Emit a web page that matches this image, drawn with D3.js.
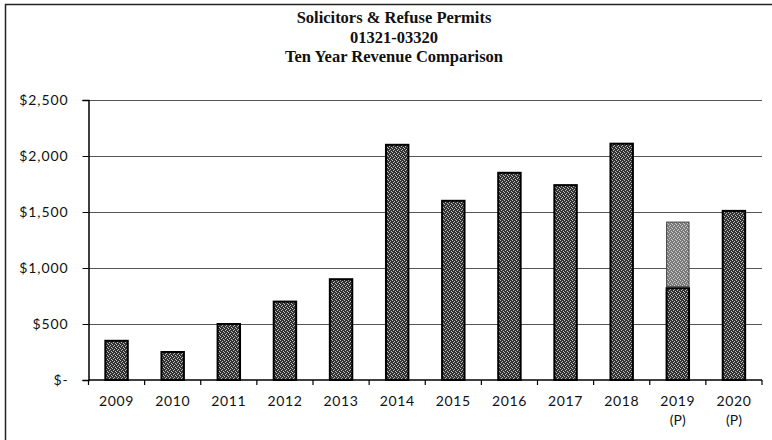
<!DOCTYPE html>
<html>
<head>
<meta charset="utf-8">
<script src="https://cdn.jsdelivr.net/npm/d3@7"></script>
<style>
  html, body { margin: 0; padding: 0; background: #fff; }
  svg { display: block; }
</style>
</head>
<body>
<svg id="chart" width="772" height="440"></svg>
<script>
// Fiscal years and their second label line
const years = ["2009", "2010", "2011", "2012", "2013", "2014", "2015", "2016", "2017", "2018", "2019", "2020"];
const yearNotes = ["", "", "", "", "", "", "", "", "", "", "(P)", "(P)"];
// Revenue collected (dark segment) and the remaining projected amount (light segment)
const collected = [350, 250, 500, 700, 900, 2100, 1600, 1850, 1740, 2110, 820, 1510];
const projected = [0, 0, 0, 0, 0, 0, 0, 0, 0, 0, 590, 0];
const yTicks = [0, 500, 1000, 1500, 2000, 2500];
const titleLines = ["Solicitors & Refuse Permits", "01321-03320", "Ten Year Revenue Comparison"];

const svg = d3.select("#chart");
const margin = { left: 88.5, right: 762, top: 100, bottom: 380 };

// Stippled fills for the bars
const defs = svg.append("defs");
function stipple(id, base, dot) {
  const p = defs.append("pattern").attr("id", id)
    .attr("width", 4).attr("height", 4).attr("patternUnits", "userSpaceOnUse");
  p.append("rect").attr("width", 4).attr("height", 4).attr("fill", base);
  [[0, 0], [2, 1], [1, 2], [3, 3]].forEach(([x, y]) =>
    p.append("rect").attr("x", x).attr("y", y).attr("width", 1).attr("height", 1).attr("fill", dot));
}
stipple("darkFill", "#333", "#bdbdbd");
stipple("lightFill", "#7a7a7a", "#cfcfcf");

// Outer frame
svg.append("rect").attr("x", 5.5).attr("y", 4.5).attr("width", 800).attr("height", 500)
  .attr("fill", "none").attr("stroke", "#222").attr("stroke-width", 1.5);

// Title
svg.append("g").selectAll("text").data(titleLines).join("text")
  .attr("x", 394).attr("y", (d, i) => 23 + i * 19.5)
  .attr("text-anchor", "middle")
  .attr("font-family", "'Liberation Serif', 'DejaVu Serif', serif")
  .attr("font-weight", "bold").attr("font-size", 16.5).attr("fill", "#111")
  .text(d => d);

const x = d3.scaleBand().domain(years).range([margin.left, margin.right]).paddingInner(0.6).paddingOuter(0.3);
const y = d3.scaleLinear().domain([0, 2500]).range([margin.bottom, margin.top]);

// Gridlines
svg.append("g").selectAll("line").data(yTicks.filter(d => d > 0)).join("line")
  .attr("x1", margin.left).attr("x2", margin.right)
  .attr("y1", d => Math.round(y(d)) + 0.5).attr("y2", d => Math.round(y(d)) + 0.5)
  .attr("stroke", "#555").attr("stroke-width", 1.2);

// Bars
const step = x.step();
const bars = svg.append("g");
bars.selectAll("rect.collected").data(years).join("rect").attr("class", "collected")
  .attr("x", d => x(d)).attr("width", x.bandwidth())
  .attr("y", (d, i) => y(collected[i])).attr("height", (d, i) => y(0) - y(collected[i]))
  .attr("fill", "url(#darkFill)").attr("stroke", "#000").attr("stroke-width", 2);
bars.selectAll("rect.projected").data(years.filter((d, i) => projected[i] > 0)).join("rect").attr("class", "projected")
  .attr("x", d => x(d)).attr("width", x.bandwidth())
  .attr("y", d => { const i = years.indexOf(d); return y(collected[i] + projected[i]); })
  .attr("height", d => { const i = years.indexOf(d); return y(collected[i]) - y(collected[i] + projected[i]) - 1.5; })
  .attr("fill", "url(#lightFill)").attr("stroke", "#444").attr("stroke-width", 1);

// Y axis
const yAxis = d3.axisLeft(y).tickValues(yTicks).tickSize(6).tickPadding(14)
  .tickFormat(d => d === 0 ? "$-" : "$" + d3.format(",")(d));
const gy = svg.append("g").attr("transform", `translate(${margin.left},0)`).call(yAxis);
gy.select(".domain").attr("stroke", "#000").attr("stroke-width", 1.5);
gy.selectAll(".tick line").attr("stroke", "#000");
gy.selectAll(".tick text").attr("font-family", "Lato, 'Open Sans', sans-serif").attr("font-size", 14)
  .attr("fill", "#111").attr("letter-spacing", 0.9);

// X axis: tick marks between categories
const gx = svg.append("g");
gx.append("line").attr("x1", margin.left).attr("x2", margin.right)
  .attr("y1", margin.bottom).attr("y2", margin.bottom).attr("stroke", "#000").attr("stroke-width", 1.5);
const bounds = d3.range(years.length + 1).map(i => margin.left + i * step);
gx.selectAll("line.tk").data(bounds).join("line").attr("class", "tk")
  .attr("x1", d => d).attr("x2", d => d).attr("y1", margin.bottom).attr("y2", margin.bottom + 5)
  .attr("stroke", "#000").attr("stroke-width", 1.2);
gx.selectAll("text.yr").data(years).join("text").attr("class", "yr")
  .attr("x", d => x(d) + x.bandwidth() / 2).attr("y", 406)
  .attr("text-anchor", "middle").attr("font-family", "Lato, 'Open Sans', sans-serif")
  .attr("font-size", 14).attr("letter-spacing", 0.6).attr("fill", "#111").text(d => d);
gx.selectAll("text.note").data(years).join("text").attr("class", "note")
  .attr("x", d => x(d) + x.bandwidth() / 2).attr("y", 425)
  .attr("text-anchor", "middle").attr("font-family", "Lato, 'Open Sans', sans-serif")
  .attr("font-size", 14).attr("fill", "#111").text((d, i) => yearNotes[i]);
</script>
</body>
</html>
